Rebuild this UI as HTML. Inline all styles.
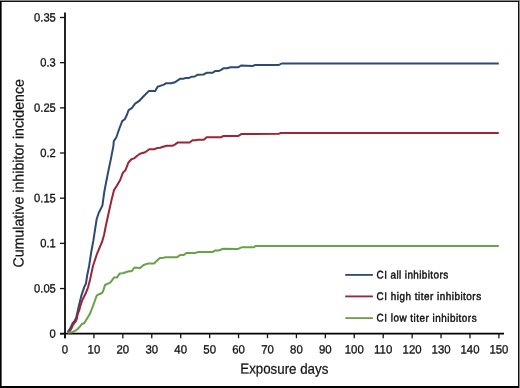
<!DOCTYPE html>
<html><head><meta charset="utf-8"><style>
html,body{margin:0;padding:0;background:#fff;}
text{text-rendering:geometricPrecision;}
body{width:520px;height:388px;overflow:hidden;position:relative;}
svg{position:absolute;left:0;top:0;will-change:transform;}
.tk{font-family:"Liberation Sans",sans-serif;font-size:12px;fill:#111;stroke:#111;stroke-width:0.3px;}
.ti{font-family:"Liberation Sans",sans-serif;font-size:14px;fill:#141414;stroke:#141414;stroke-width:0.25px;}
.lg{font-family:"Liberation Sans",sans-serif;font-size:11px;fill:#111;stroke:#111;stroke-width:0.45px;}
</style></head><body>
<svg width="520" height="388" viewBox="0 0 520 388">
<rect x="0" y="0" width="520" height="1" fill="#888"/>
<rect x="0" y="1" width="519" height="1" fill="#111"/>
<rect x="0" y="1" width="1.6" height="387" fill="#000"/>
<rect x="518" y="1" width="1" height="387" fill="#111"/>
<rect x="519" y="0" width="1" height="388" fill="#888"/>
<rect x="0" y="386" width="519" height="2" fill="#000"/>
<line x1="65" y1="12.5" x2="65" y2="338.2" stroke="#222" stroke-width="2"/>
<line x1="60" y1="333.6" x2="504" y2="333.6" stroke="#000" stroke-width="1.6"/>
<line x1="60" y1="333.70" x2="65" y2="333.70" stroke="#111" stroke-width="1.3"/>
<text transform="translate(55.8,337.65) rotate(0.05) scale(0.93,1)" text-anchor="end" class="tk">0</text>
<line x1="60" y1="288.53" x2="65" y2="288.53" stroke="#111" stroke-width="1.3"/>
<text transform="translate(55.8,292.48) rotate(0.05) scale(0.93,1)" text-anchor="end" class="tk">0.05</text>
<line x1="60" y1="243.36" x2="65" y2="243.36" stroke="#111" stroke-width="1.3"/>
<text transform="translate(55.8,247.31) rotate(0.05) scale(0.93,1)" text-anchor="end" class="tk">0.1</text>
<line x1="60" y1="198.19" x2="65" y2="198.19" stroke="#111" stroke-width="1.3"/>
<text transform="translate(55.8,202.14) rotate(0.05) scale(0.93,1)" text-anchor="end" class="tk">0.15</text>
<line x1="60" y1="153.01" x2="65" y2="153.01" stroke="#111" stroke-width="1.3"/>
<text transform="translate(55.8,156.96) rotate(0.05) scale(0.93,1)" text-anchor="end" class="tk">0.2</text>
<line x1="60" y1="107.84" x2="65" y2="107.84" stroke="#111" stroke-width="1.3"/>
<text transform="translate(55.8,111.79) rotate(0.05) scale(0.93,1)" text-anchor="end" class="tk">0.25</text>
<line x1="60" y1="62.67" x2="65" y2="62.67" stroke="#111" stroke-width="1.3"/>
<text transform="translate(55.8,66.62) rotate(0.05) scale(0.93,1)" text-anchor="end" class="tk">0.3</text>
<line x1="60" y1="17.50" x2="65" y2="17.50" stroke="#111" stroke-width="1.3"/>
<text transform="translate(55.8,21.45) rotate(0.05) scale(0.93,1)" text-anchor="end" class="tk">0.35</text>
<line x1="65.00" y1="333" x2="65.00" y2="338.2" stroke="#111" stroke-width="1.3"/>
<text transform="translate(65.00,353.5) rotate(0.05) scale(0.95,1)" text-anchor="middle" class="tk">0</text>
<line x1="93.93" y1="333" x2="93.93" y2="338.2" stroke="#111" stroke-width="1.3"/>
<text transform="translate(93.93,353.5) rotate(0.05) scale(0.95,1)" text-anchor="middle" class="tk">10</text>
<line x1="122.85" y1="333" x2="122.85" y2="338.2" stroke="#111" stroke-width="1.3"/>
<text transform="translate(122.85,353.5) rotate(0.05) scale(0.95,1)" text-anchor="middle" class="tk">20</text>
<line x1="151.78" y1="333" x2="151.78" y2="338.2" stroke="#111" stroke-width="1.3"/>
<text transform="translate(151.78,353.5) rotate(0.05) scale(0.95,1)" text-anchor="middle" class="tk">30</text>
<line x1="180.71" y1="333" x2="180.71" y2="338.2" stroke="#111" stroke-width="1.3"/>
<text transform="translate(180.71,353.5) rotate(0.05) scale(0.95,1)" text-anchor="middle" class="tk">40</text>
<line x1="209.63" y1="333" x2="209.63" y2="338.2" stroke="#111" stroke-width="1.3"/>
<text transform="translate(209.63,353.5) rotate(0.05) scale(0.95,1)" text-anchor="middle" class="tk">50</text>
<line x1="238.56" y1="333" x2="238.56" y2="338.2" stroke="#111" stroke-width="1.3"/>
<text transform="translate(238.56,353.5) rotate(0.05) scale(0.95,1)" text-anchor="middle" class="tk">60</text>
<line x1="267.49" y1="333" x2="267.49" y2="338.2" stroke="#111" stroke-width="1.3"/>
<text transform="translate(267.49,353.5) rotate(0.05) scale(0.95,1)" text-anchor="middle" class="tk">70</text>
<line x1="296.41" y1="333" x2="296.41" y2="338.2" stroke="#111" stroke-width="1.3"/>
<text transform="translate(296.41,353.5) rotate(0.05) scale(0.95,1)" text-anchor="middle" class="tk">80</text>
<line x1="325.34" y1="333" x2="325.34" y2="338.2" stroke="#111" stroke-width="1.3"/>
<text transform="translate(325.34,353.5) rotate(0.05) scale(0.95,1)" text-anchor="middle" class="tk">90</text>
<line x1="354.27" y1="333" x2="354.27" y2="338.2" stroke="#111" stroke-width="1.3"/>
<text transform="translate(354.27,353.5) rotate(0.05) scale(0.95,1)" text-anchor="middle" class="tk">100</text>
<line x1="383.19" y1="333" x2="383.19" y2="338.2" stroke="#111" stroke-width="1.3"/>
<text transform="translate(383.19,353.5) rotate(0.05) scale(0.95,1)" text-anchor="middle" class="tk">110</text>
<line x1="412.12" y1="333" x2="412.12" y2="338.2" stroke="#111" stroke-width="1.3"/>
<text transform="translate(412.12,353.5) rotate(0.05) scale(0.95,1)" text-anchor="middle" class="tk">120</text>
<line x1="441.05" y1="333" x2="441.05" y2="338.2" stroke="#111" stroke-width="1.3"/>
<text transform="translate(441.05,353.5) rotate(0.05) scale(0.95,1)" text-anchor="middle" class="tk">130</text>
<line x1="469.97" y1="333" x2="469.97" y2="338.2" stroke="#111" stroke-width="1.3"/>
<text transform="translate(469.97,353.5) rotate(0.05) scale(0.95,1)" text-anchor="middle" class="tk">140</text>
<line x1="498.90" y1="333" x2="498.90" y2="338.2" stroke="#111" stroke-width="1.3"/>
<text transform="translate(498.90,353.5) rotate(0.05) scale(0.95,1)" text-anchor="middle" class="tk">150</text>
<polyline points="67.6,332.6 68.6,330.8 70.8,327.3 72.5,323.4 74.8,320.5 76.2,317.7 77.4,312.5 78.8,306.0 81.3,295.9 84.4,286.6 86.0,283.5 87.0,276.3 89.1,266.0 91.3,251.8 93.4,240.4 95.6,226.0 96.7,219.0 98.8,212.8 102.4,205.6 103.4,198.4 104.4,191.2 105.4,186.0 108.2,171.8 110.8,159.4 113.4,146.0 113.8,141.1 116.4,137.2 119.0,129.5 122.2,121.1 124.8,119.2 126.7,115.3 128.6,110.2 131.8,108.2 135.1,103.7 138.9,101.2 143.6,96.2 148.7,91.1 155.2,91.1 157.6,86.8 161.0,85.6 163.8,84.6 165.9,83.3 171.4,83.3 174.8,82.3 178.1,80.2 180.4,78.7 183.3,78.7 186.1,77.9 189.0,77.9 191.9,76.7 194.8,76.5 197.7,74.7 203.5,74.5 207.0,72.7 212.7,72.7 215.0,71.1 218.5,71.1 220.8,70.1 223.7,68.2 227.1,68.2 230.6,67.3 238.1,67.3 241.0,65.5 252.9,65.9 255.2,65.0 278.8,65.0 281.5,63.5 498.8,63.5" fill="none" stroke="#2c4a72" stroke-width="2.0" stroke-linejoin="round" stroke-linecap="butt"/>
<polyline points="68.4,332.6 69.7,331.3 71.4,328.5 72.8,325.1 74.2,323.1 75.6,321.7 76.8,318.8 77.6,314.8 78.5,312.0 79.4,309.9 80.3,306.0 82.4,300.0 85.5,293.8 88.0,287.6 90.1,279.4 93.0,266.0 97.0,253.8 102.2,241.5 104.2,234.2 105.8,226.0 108.9,211.8 111.9,198.4 113.9,190.4 116.8,185.8 120.2,180.0 122.9,172.7 125.5,170.1 128.4,162.5 131.4,159.3 134.0,158.4 136.6,156.2 140.0,153.8 145.2,152.3 149.3,149.3 154.5,149.3 157.3,147.9 160.2,147.8 163.1,146.8 166.6,145.7 172.9,145.7 175.2,144.4 177.5,142.6 189.6,142.6 192.5,140.2 195.8,140.2 198.1,139.7 203.8,139.7 206.7,137.3 221.1,137.3 223.4,135.9 238.4,135.9 241.3,134.1 279.0,133.7 281.0,132.9 498.8,132.9" fill="none" stroke="#9c2338" stroke-width="2.0" stroke-linejoin="round" stroke-linecap="butt"/>
<polyline points="67.6,332.8 72.0,332.2 74.3,331.3 75.4,330.7 77.6,329.0 79.3,327.3 81.0,325.1 82.0,324.0 83.2,323.5 84.4,323.0 86.7,319.1 89.1,315.3 90.7,312.0 93.7,304.0 96.7,295.7 99.0,294.2 102.0,293.0 103.2,290.9 105.0,285.0 107.4,283.8 110.3,282.6 112.1,280.2 113.9,277.6 116.8,277.6 119.8,273.4 122.8,273.2 128.7,271.3 131.5,271.3 134.4,267.6 140.2,267.9 143.6,265.0 147.7,263.6 154.0,263.6 159.8,258.1 162.1,258.1 165.6,257.3 177.1,257.3 180.0,255.1 183.5,255.1 186.4,253.0 195.0,253.0 197.9,252.1 212.3,252.1 215.2,250.5 218.7,250.5 223.3,248.7 238.1,248.9 241.5,247.3 253.6,247.3 255.4,246.1 498.8,246.1" fill="none" stroke="#69a04a" stroke-width="2.0" stroke-linejoin="round" stroke-linecap="butt"/>
<line x1="345.2" y1="274.9" x2="372.9" y2="274.9" stroke="#2c4a72" stroke-width="1.8"/>
<text transform="translate(376.6,278.40) rotate(0.05) scale(0.9,1)" class="lg" textLength="79.44" lengthAdjust="spacing">CI all inhibitors</text>
<line x1="345.2" y1="296.4" x2="372.9" y2="296.4" stroke="#9c2338" stroke-width="1.8"/>
<text transform="translate(376.6,299.90) rotate(0.05) scale(0.9,1)" class="lg" textLength="116.11" lengthAdjust="spacing">CI high titer inhibitors</text>
<line x1="345.2" y1="318.1" x2="372.9" y2="318.1" stroke="#69a04a" stroke-width="1.8"/>
<text transform="translate(376.6,321.60) rotate(0.05) scale(0.9,1)" class="lg" textLength="111.11" lengthAdjust="spacing">CI low titer inhibitors</text>
<text transform="translate(240.3,373.6) rotate(0.05)" class="ti" style="font-size:14.5px" textLength="88" lengthAdjust="spacingAndGlyphs">Exposure days</text>
<text transform="translate(23.5,267.6) rotate(-89.95)" class="ti" style="font-size:14.8px" textLength="188.5" lengthAdjust="spacingAndGlyphs">Cumulative inhibitor incidence</text>
</svg>
</body></html>
